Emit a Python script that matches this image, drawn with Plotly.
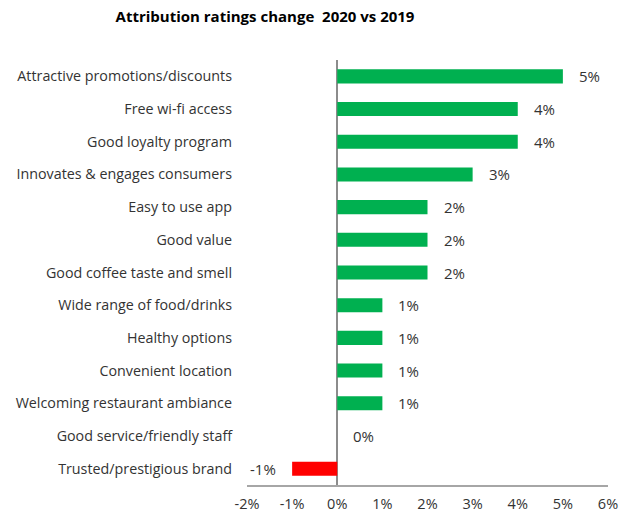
import plotly.graph_objects as go

# Attribute rating change, 2020 vs 2019 (percentage points)
attributes = [
    "Attractive promotions/discounts",
    "Free wi-fi access",
    "Good loyalty program",
    "Innovates & engages consumers",
    "Easy to use app",
    "Good value",
    "Good coffee taste and smell",
    "Wide range of food/drinks",
    "Healthy options",
    "Convenient location",
    "Welcoming restaurant ambiance",
    "Good service/friendly staff",
    "Trusted/prestigious brand",
]
change = [5, 4, 4, 3, 2, 2, 2, 1, 1, 1, 1, 0, -1]
x_ticks = [-2, -1, 0, 1, 2, 3, 4, 5, 6]

GREEN = "#00B050"
RED = "#FF0000"
FONT = "Open Sans"
TEXT = "#333333"
AXIS = "#8C8C8C"

colors = [RED if v < 0 else GREEN for v in change]

fig = go.Figure(
    go.Bar(
        x=change,
        y=attributes,
        orientation="h",
        marker=dict(color=colors, line=dict(width=0)),
        width=0.43,
        hoverinfo="x+y",
    )
)

# value labels beside each bar end
for name, v in zip(attributes, change):
    fig.add_annotation(
        x=v, y=name, xref="x", yref="y",
        text=f"{v}%",
        showarrow=False,
        xanchor="right" if v < 0 else "left",
        xshift=-14 if v < 0 else 14,
        font=dict(family=FONT, size=15, color=TEXT),
    )

fig.update_layout(
    width=634,
    height=516,
    margin=dict(l=247, r=26, t=60, b=31, autoexpand=False),
    paper_bgcolor="white",
    plot_bgcolor="white",
    showlegend=False,
    title=dict(
        text="<b>Attribution ratings change  2020 vs 2019</b>",
        x=265 / 634, xanchor="center", xref="container",
        y=1 - 17 / 516, yanchor="middle",
        font=dict(family=FONT, size=15, color="#000000"),
    ),
    font=dict(family=FONT, size=14, color=TEXT),
)

fig.update_xaxes(
    range=[-2, 6],
    tickvals=x_ticks,
    ticktext=[f"{t}%" for t in x_ticks],
    showgrid=False,
    zeroline=True,
    zerolinecolor=AXIS,
    zerolinewidth=2,
    showline=True,
    linecolor="#A6A6A6",
    linewidth=2,
    ticks="",
    ticklabelstandoff=5,
    automargin=False,
    tickfont=dict(family=FONT, size=14.5, color=TEXT),
    fixedrange=True,
)
fig.update_yaxes(
    autorange="reversed",
    showgrid=False,
    showline=False,
    ticks="",
    ticklabelstandoff=14,
    automargin=False,
    tickfont=dict(family=FONT, size=14.3, color=TEXT),
    fixedrange=True,
)

fig.write_html("out.html")
